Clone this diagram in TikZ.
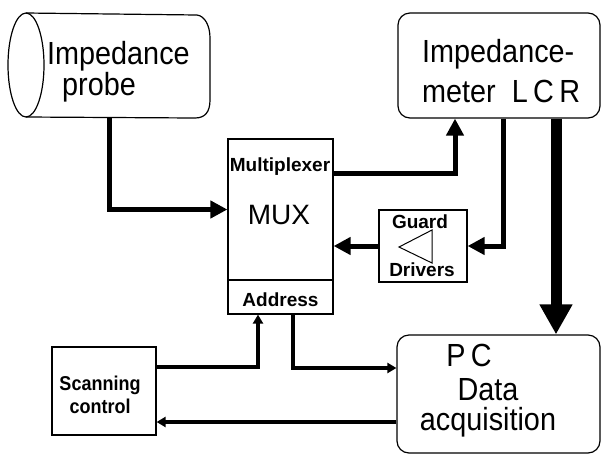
\documentclass[tikz,border=0pt]{standalone}
\usepackage{fontspec}
\setmainfont{Liberation Sans}
\newfontfamily\narrowsans[FakeStretch=0.9]{Liberation Sans}
\usetikzlibrary{arrows.meta}

\begin{document}
\begin{tikzpicture}[x=1pt,y=-1pt,
  box/.style={draw,line width=1.2pt,inner sep=0pt},
  roundbox/.style={box,rounded corners=12pt},
  bigtext/.style={font=\narrowsans\fontsize{32}{24}\selectfont,inner sep=0pt},
  smalltext/.style={font=\bfseries\fontsize{19}{21}\selectfont,inner sep=0pt},
  link/.style={line width=5pt,-{Triangle[length=17pt,width=17pt]}},
  thinlink/.style={line width=3.5pt,-{Triangle[length=9pt,width=10pt]}},
  heavylink/.style={line width=11pt,-{Triangle[length=30pt,width=31pt]}},
]
\useasboundingbox (0,0) rectangle (602,456);

% probe: cylinder lying on its side
\node[inner sep=0pt,minimum width=202pt,minimum height=104pt] (probe) at (109,65) {};
\draw[line width=1.2pt] (26,65) ellipse [x radius=18, y radius=52];
\draw[line width=1.2pt] (26,13) -- (197,15)
  .. controls (205,16) and (210,26) .. (210,38) -- (210,100)
  .. controls (210,112) and (205,118) .. (195,118) -- (26,117);
\node[bigtext,align=left,anchor=west] (probetext) at (47,72)
  {Impedance\\\hspace*{15pt}probe};

% impedance meter
\node[roundbox,minimum width=202pt,minimum height=105pt] (meter) at (499,65.5) {};
\node[bigtext,font=\narrowsans\fontsize{32}{40}\selectfont,align=left,anchor=west]
  (metertext) at (422,71) {Impedance-\\meter\ \ L\,C\,R};

% multiplexer with its address block
\node[box,minimum width=105pt,minimum height=141pt] (mux) at (280.5,209.5) {};
\node[box,minimum width=105pt,minimum height=34pt] (addr) at (280.5,297) {};
\node[smalltext] (muxlabel) at (280,167) {Multiplexer};
\node[font=\fontsize{28}{30}\selectfont,inner sep=0pt] (muxname) at (279,215) {MUX};
\node[smalltext] (addrlabel) at (280.5,300) {Address};

% guard drivers
\node[box,minimum width=88pt,minimum height=72pt] (guard) at (423,246) {};
\draw[line width=1pt] (432,230) -- (399,247) -- (432,263) -- cycle;
\node[smalltext] (guardtext) at (420,222) {Guard};
\node[smalltext] (drivertext) at (422,270) {Drivers};

% scanning control
\node[box,minimum width=104pt,minimum height=88pt] (scan) at (104,391) {};
\node[font=\narrowsans\bfseries\fontsize{20}{23}\selectfont,align=center,inner sep=0pt]
  (scantext) at (100,395) {Scanning\\control};

% PC
\node[roundbox,minimum width=203pt,minimum height=118pt] (pc) at (498.5,394) {};
\node[bigtext,font=\narrowsans\fontsize{32}{30}\selectfont,align=center] (pctext) at (488,391)
  {P\,C\hspace*{38pt}\\[4pt]Data\hspace*{24pt}\\acquisition};

% connections
\draw[link] (probe.south) |- (mux.west);
\draw[link] ([yshift=36pt]mux.east) -| ([xshift=-44pt]meter.south);
\draw[link] ([xshift=4pt]meter.south) |- (guard.east);
\draw[link] (guard.west) -- (guard.west -| mux.east);
\draw[heavylink] ([xshift=57pt]meter.south) -- ([xshift=57pt]meter.south |- pc.north);
\draw[thinlink] ([yshift=24pt]scan.east) -| ([xshift=-22.5pt]addr.south);
\draw[thinlink] ([xshift=12.5pt]addr.south) |- ([yshift=26pt]pc.west);
\draw[thinlink] ([yshift=-28pt]pc.west) -- ([yshift=-28pt]pc.west -| scan.east);
\end{tikzpicture}
\end{document}
